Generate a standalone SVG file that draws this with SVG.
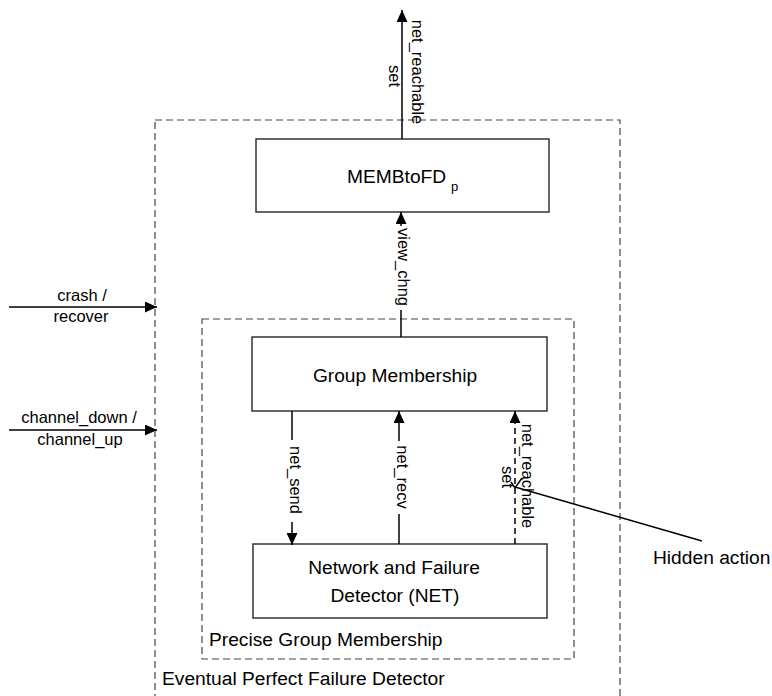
<svg xmlns="http://www.w3.org/2000/svg" width="772" height="696" viewBox="0 0 772 696">
<style>
  text { font-family: "Liberation Sans", Arial, sans-serif; fill: #000; }
  .big { font-size: 19.2px; }
  .sm { font-size: 16.5px; }
  .sub { font-size: 13px; }
  .box { fill: #fff; stroke: #333; stroke-width: 1.5; }
  .dbox { fill: none; stroke: #444; stroke-width: 1.2; stroke-dasharray: 7 4; }
  .conn { stroke: #000; stroke-width: 1.5; fill: none; }
  .dconn { stroke: #000; stroke-width: 1.5; fill: none; stroke-dasharray: 6 4; }
  .bg { fill: #fff; stroke: none; }
</style>
<defs>
  <marker id="ah" viewBox="0 0 12 11" refX="12" refY="5.5" markerWidth="12" markerHeight="11" orient="auto" markerUnits="userSpaceOnUse">
    <path d="M0,0 L12,5.5 L0,11 z" fill="#000"/>
  </marker>
</defs>
<rect width="772" height="696" fill="#fff"/>

<g id="eventual-perfect-fd">
  <rect class="dbox" x="155" y="120" width="465" height="590"/>
  <text class="big" x="162" y="685">Eventual Perfect Failure Detector</text>
</g>
<g id="precise-group-membership">
  <rect class="dbox" x="202" y="319" width="372" height="340"/>
  <text class="big" x="209" y="646">Precise Group Membership</text>
</g>
<g id="membtofd">
  <rect class="box" x="256" y="139" width="293" height="73"/>
  <text class="big" x="347" y="183">MEMBtoFD</text>
  <text class="sub" x="451" y="191">p</text>
</g>
<g id="group-membership">
  <rect class="box" x="252" y="337" width="295" height="74"/>
  <text class="big" x="395" y="382" text-anchor="middle">Group Membership</text>
</g>
<g id="net">
  <rect class="box" x="253" y="544" width="294" height="74"/>
  <text class="big" x="394" y="574" text-anchor="middle">Network and Failure</text>
  <text class="big" x="395" y="602" text-anchor="middle">Detector (NET)</text>
</g>
<g id="hidden-action">
  <text class="big" x="653" y="564">Hidden action</text>
</g>

<g id="connectors">
  <!-- top output -->
  <line class="conn" x1="402" y1="139" x2="402" y2="10" marker-end="url(#ah)"/>
  <text class="sm" transform="translate(412,72) rotate(90)" text-anchor="middle">net_reachable</text>
  <text class="sm" transform="translate(389,76) rotate(90)" text-anchor="middle">set</text>

  <!-- view_chng -->
  <line class="conn" x1="401" y1="337" x2="401" y2="212" marker-end="url(#ah)"/>
  <rect class="bg" x="395" y="226" width="16" height="84"/>
  <text class="sm" transform="translate(398,267) rotate(90)" text-anchor="middle">view_chng</text>

  <!-- left inputs -->
  <line class="conn" x1="9" y1="307" x2="157" y2="307" marker-end="url(#ah)"/>
  <text class="sm" x="82" y="301" text-anchor="middle">crash /</text>
  <text class="sm" x="81" y="322" text-anchor="middle">recover</text>
  <line class="conn" x1="9" y1="430" x2="157" y2="430" marker-end="url(#ah)"/>
  <text class="sm" x="79" y="423" text-anchor="middle">channel_down /</text>
  <text class="sm" x="80" y="445" text-anchor="middle">channel_up</text>

  <!-- net_send -->
  <line class="conn" x1="292" y1="411" x2="292" y2="545" marker-end="url(#ah)"/>
  <rect class="bg" x="286" y="440" width="17" height="82"/>
  <text class="sm" transform="translate(290,480) rotate(90)" text-anchor="middle">net_send</text>

  <!-- net_recv -->
  <line class="conn" x1="399" y1="544" x2="399" y2="411" marker-end="url(#ah)"/>
  <rect class="bg" x="393" y="441" width="17" height="73"/>
  <text class="sm" transform="translate(397,477) rotate(90)" text-anchor="middle">net_recv</text>

  <!-- net_reachable set (hidden) -->
  <line class="dconn" x1="515" y1="544" x2="515" y2="423"/>
  <line class="conn" x1="515" y1="423" x2="515" y2="411" marker-end="url(#ah)"/>
  <text class="sm" transform="translate(522,476) rotate(90)" text-anchor="middle">net_reachable</text>
  <text class="sm" transform="translate(502,477) rotate(90)" text-anchor="middle">set</text>

  <!-- hidden action leader -->
  <path class="conn" stroke-width="1" d="M511,482 L515,488 L522,478"/>
  <line class="conn" stroke-width="1.2" x1="515" y1="487" x2="702" y2="541"/>
</g>
</svg>
